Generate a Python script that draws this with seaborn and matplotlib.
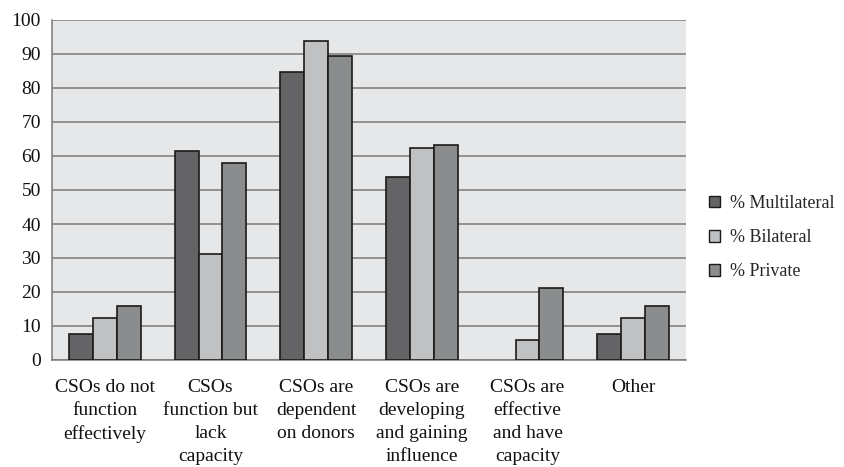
import matplotlib
matplotlib.use("Agg")
import matplotlib.pyplot as plt
import seaborn as sns
import pandas as pd
import numpy as np

categories = [
    "CSOs do not\nfunction\neffectively",
    "CSOs\nfunction but\nlack\ncapacity",
    "CSOs are\ndependent\non donors",
    "CSOs are\ndeveloping\nand gaining\ninfluence",
    "CSOs are\neffective\nand have\ncapacity",
    "Other",
]
series = ["% Multilateral", "% Bilateral", "% Private"]
multilateral = [7.7, 61.5, 84.6, 53.8, 0.0, 7.7]
bilateral = [12.5, 31.3, 93.8, 62.5, 6.0, 12.5]
private = [15.8, 57.9, 89.5, 63.2, 21.1, 15.8]
y_ticks = [0, 10, 20, 30, 40, 50, 60, 70, 80, 90, 100]

df = pd.DataFrame({
    "category": categories * 3,
    "series": [series[0]] * 6 + [series[1]] * 6 + [series[2]] * 6,
    "value": multilateral + bilateral + private,
})

sns.set_theme(style="white")
plt.rcParams["font.family"] = ["Liberation Serif", "DejaVu Serif"]

fig = plt.figure(figsize=(8.44, 4.67), dpi=100)
ax = fig.add_axes([52 / 844, 1 - 360 / 467, (686 - 52) / 844, 340 / 467])
ax.set_facecolor("#e6e7e9")

palette = ["#646466", "#c0c1c3", "#8b8c8e"]
sns.barplot(data=df, x="category", y="value", hue="series", order=categories,
            hue_order=series, palette=palette, width=0.68, saturation=1,
            edgecolor="#1a1a1a", linewidth=1.2, ax=ax, zorder=3)

# Empty bars get no outline
for patch in ax.patches:
    if patch.get_height() == 0:
        patch.set_linewidth(0)

ax.set_ylim(0, 100)
ax.set_xlim(-0.5, len(categories) - 0.5)
ax.set_yticks(y_ticks)
ax.yaxis.grid(True, color="#7a7a7a", linewidth=1.1, zorder=0)
ax.set_axisbelow(True)
ax.set_xlabel("")
ax.set_ylabel("")

for side in ["top", "right"]:
    ax.spines[side].set_visible(False)
for side in ["left", "bottom"]:
    ax.spines[side].set_color("#7a7a7a")
    ax.spines[side].set_linewidth(1.1)

# Category labels centred, ticks at the group boundaries
ax.set_xticks(range(len(categories)))
ax.set_xticklabels(categories, fontsize=14, va="top", linespacing=1.44)
ax.tick_params(axis="x", length=0, pad=14, colors="#111111")
ax.set_xticks(np.arange(-0.5, len(categories)), minor=True)
ax.tick_params(axis="x", which="minor", length=7, width=1.1, color="#7a7a7a", direction="out")
ax.tick_params(axis="y", length=5, width=1.1, color="#7a7a7a", direction="out",
               labelsize=14, labelcolor="#111111", pad=3)

leg = ax.legend(loc="center left", frameon=False, fontsize=13, handlelength=0.62,
                handleheight=0.62, handletextpad=0.55, labelspacing=0.95,
                borderpad=0, borderaxespad=0)
leg.set_bbox_to_anchor((1.036, 0.36), transform=ax.transAxes)
for h in leg.legend_handles:
    h.set_edgecolor("#1a1a1a")
    h.set_linewidth(1.0)

fig.savefig("out.png", dpi=100)
